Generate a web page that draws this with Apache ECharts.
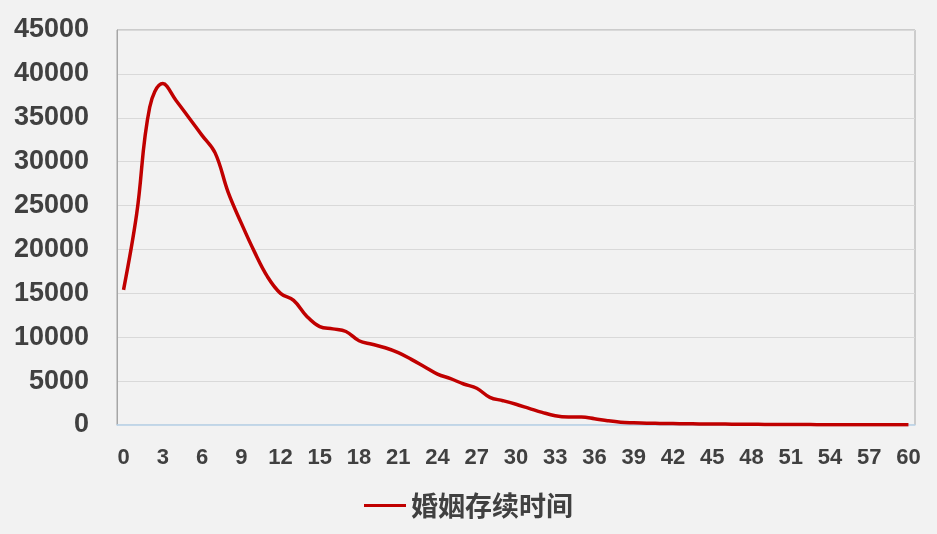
<!DOCTYPE html>
<html>
<head>
<meta charset="utf-8">
<script src="https://cdn.jsdelivr.net/npm/echarts@6/dist/echarts.min.js"></script>
<style>
html,body{margin:0;padding:0;background:#F2F2F2;}
#chart{width:937px;height:534px;}
</style>
</head>
<body>
<div id="chart"></div>
<script>
// Years of marriage duration (0..60)
const categories = [];
for (let i = 0; i <= 60; i++) categories.push(String(i));

const seriesName = '婚姻存续时间';
const values = [
  15400, 24000, 36200, 38900, 37000, 35000, 33000, 31000, 26500, 23000,
  19750, 16900, 15000, 14200, 12400, 11200, 10950, 10650, 9600, 9200,
  8800, 8250, 7480, 6640, 5800, 5280, 4670, 4180, 3150, 2770,
  2360, 1900, 1440, 1060, 910, 900, 720, 490, 320, 250,
  200, 180, 160, 140, 125, 110, 100, 90, 80, 70,
  62, 55, 48, 42, 36, 31, 27, 23, 20, 17, 15
];

const yTicks = { min: 0, max: 45000, interval: 5000 };

const chart = echarts.init(document.getElementById('chart'));
chart.setOption({
  backgroundColor: '#F2F2F2',
  animation: false,
  grid: {
    left: 117, right: 22, top: 30, bottom: 109,
    show: true, borderColor: '#A6A6A6', borderWidth: 1,
    backgroundColor: 'transparent'
  },
  legend: {
    bottom: 10,
    left: 'center',
    itemWidth: 42,
    itemHeight: 14,
    itemGap: 4,
    icon: 'path://M0,6 L42,6 L42,9 L0,9 Z',
    textStyle: {
      fontFamily: '"Noto Sans CJK SC", sans-serif',
      fontWeight: 'bold',
      fontSize: 27,
      color: '#404040'
    },
    data: [seriesName]
  },
  xAxis: {
    type: 'category',
    data: categories,
    boundaryGap: true,
    axisLine: { show: true, lineStyle: { color: '#BDD7EE', width: 1.5 } },
    axisTick: { show: false },
    axisLabel: {
      interval: 2,
      margin: 22,
      fontFamily: '"Liberation Sans", Arial, sans-serif',
      fontWeight: 'bold',
      fontSize: 22,
      color: '#404040'
    },
    splitLine: { show: false }
  },
  yAxis: {
    type: 'value',
    min: yTicks.min,
    max: yTicks.max,
    interval: yTicks.interval,
    axisLine: { show: true, lineStyle: { color: '#A6A6A6', width: 1 } },
    axisTick: { show: false },
    axisLabel: {
      margin: 28,
      formatter: function (v) { return String(v); },
      fontFamily: '"Liberation Sans", Arial, sans-serif',
      fontWeight: 'bold',
      fontSize: 27,
      color: '#404040'
    },
    splitLine: { show: true, lineStyle: { color: '#D9D9D9', width: 1 } }
  },
  series: [{
    name: seriesName,
    type: 'line',
    data: values,
    smooth: 0.4,
    showSymbol: false,
    symbol: 'none',
    lineStyle: { color: '#C00000', width: 3.5 },
    itemStyle: { color: '#C00000' }
  }]
});
</script>
</body>
</html>
